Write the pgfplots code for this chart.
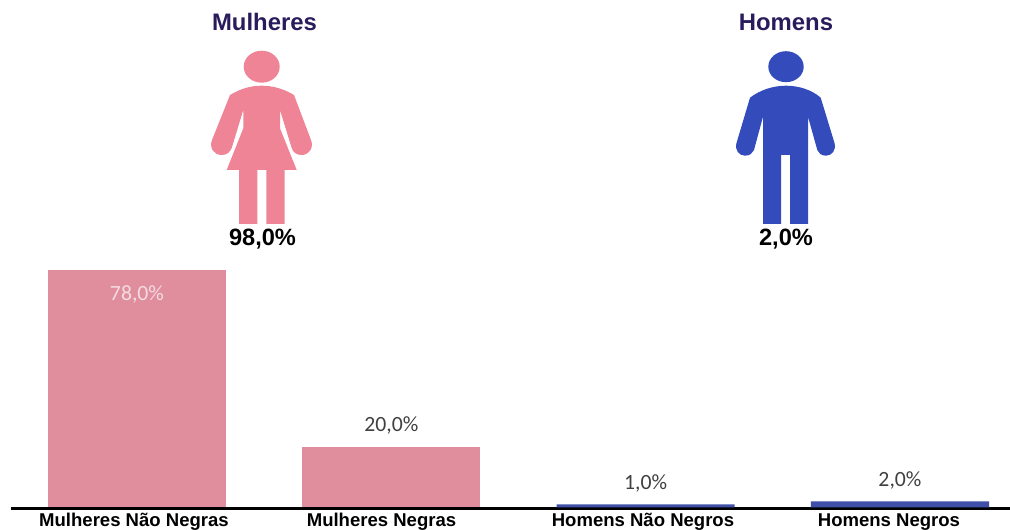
\documentclass[border=0pt]{standalone}
\usepackage{pgfplots}
\pgfplotsset{compat=1.18}
\usepackage{fontspec}
\setmainfont{Liberation Sans}
\newfontfamily\carlito{Carlito}
\definecolor{titlec}{HTML}{2A1B5C}
\definecolor{pinkicon}{HTML}{F08497}
\definecolor{blueicon}{HTML}{344CBB}
\definecolor{pinkbar}{HTML}{E08E9D}
\definecolor{bluebar}{HTML}{4050A8}
\definecolor{lab}{HTML}{404040}
\definecolor{labin}{HTML}{F2DCE0}
\pgfplotsset{
  pctlabels/.style={
    nodes near coords={\pgfmathprintnumber[assume math mode=true,fixed,fixed zerofill,precision=1,use comma]{\pgfplotspointmeta}\%},
    every node near coord/.append style={font=\carlito\fontsize{16.3pt}{18pt}\selectfont,text=lab,anchor=center,yshift=15.6pt,inner sep=0pt}
  }
}
\begin{document}
\begin{tikzpicture}
\path[use as bounding box] (0,0) rectangle (757.5pt,396.75pt);
\begin{axis}[
  at={(8.25pt,15.375pt)},anchor=south west,
  scale only axis,width=749.25pt,height=188pt,
  xmin=-0.4954,xmax=3.4326,ymin=-0.33,ymax=82,
  axis x line=bottom,axis y line=none,
  axis line style={line width=2.2pt,-,black},
  xtick={-0.0118,0.9614,1.9895,2.9567},
  xticklabels={Mulheres Não Negras,Mulheres Negras,Homens Não Negros,Homens Negros},
  xtick style={draw=none},major tick length=0pt,
  xticklabel style={font=\bfseries\fontsize{13.9pt}{15pt}\selectfont,anchor=base,yshift=-13.6pt,inner sep=0pt},
  ybar,bar width=0.7,bar shift=0pt,
  clip=false,
]
\addplot[draw=none,fill=pinkbar,pctlabels,every node near coord/.append style={text=labin,yshift=-33.6pt}] coordinates {(0,78)};
\addplot[draw=none,fill=pinkbar,pctlabels] coordinates {(1,20)};
\addplot[draw=none,fill=bluebar,pctlabels] coordinates {(2,1) (3,2)};
\end{axis}
\begin{scope}[shift={(0,396.75pt)},x=0.75pt,y=-0.75pt]
\node[font=\bfseries\fontsize{17.9pt}{20pt}\selectfont,text=titlec] at (264.5,22) {Mulheres};
\node[font=\bfseries\fontsize{17.9pt}{20pt}\selectfont,text=titlec] at (786,22) {Homens};
\node[font=\bfseries\fontsize{17.7pt}{20pt}\selectfont] at (262.5,239) {98,0\%};
\node[font=\bfseries\fontsize{17.7pt}{20pt}\selectfont] at (786,239) {2,0\%};
% woman
\fill[pinkicon] (261.7,66.7) ellipse [x radius=18,y radius=16];
\fill[pinkicon] (230,95) .. controls (240,89) and (250,85.7) .. (261.7,85.7)
  .. controls (273,85.7) and (284,89) .. (294,95)
  -- (311,140) .. controls (314,148) and (309,155) .. (301.7,155)
  .. controls (296,155) and (293,152) .. (291.7,148)
  -- (280,110) -- (280,128.3) -- (296.7,170) -- (284.7,170) -- (284.7,224) -- (266.3,224)
  -- (266.3,170) -- (257.3,170) -- (257.3,224) -- (239,224) -- (239,170) -- (226.7,170)
  -- (243.3,128.3) -- (243.3,110) -- (231.7,148)
  .. controls (230,152) and (227,155) .. (221.7,155)
  .. controls (214,155) and (209,148) .. (212,140) -- cycle;
% man
\fill[blueicon] (786,66.7) ellipse [x radius=17.7,y radius=15.5];
\fill[blueicon] (750,97.7) .. controls (760,90) and (773,85.7) .. (786,85.7)
  .. controls (799,85.7) and (812,90) .. (820.7,97.7)
  -- (834.5,143) .. controls (836.5,150) and (832,155.7) .. (826,155.7)
  .. controls (821,155.7) and (818.5,153) .. (817.3,150)
  -- (808,116.7) -- (808,224) -- (790,224) -- (790,155) -- (781,155) -- (781,224) -- (763,224)
  -- (763,116.7) -- (754,150)
  .. controls (752.5,153) and (750,155.7) .. (745,155.7)
  .. controls (739,155.7) and (734.5,150) .. (736.5,143) -- cycle;
\end{scope}
\end{tikzpicture}
\end{document}
